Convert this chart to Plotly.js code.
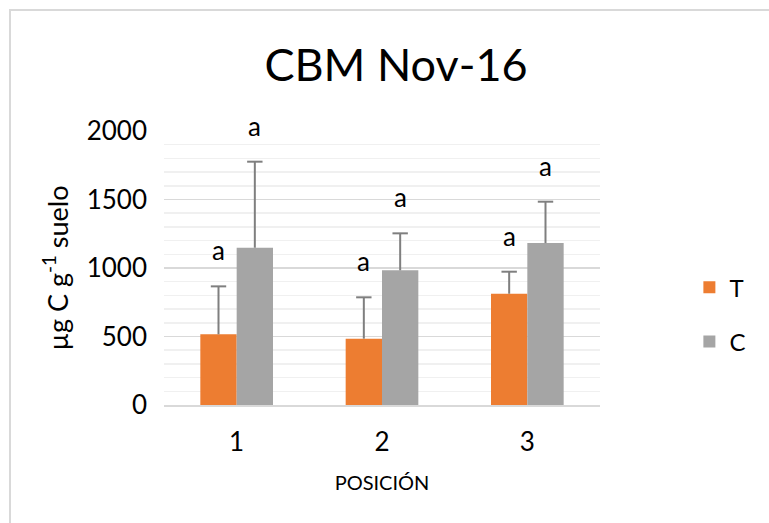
<!DOCTYPE html>
<html>
<head>
<meta charset="utf-8">
<script src="https://cdn.plot.ly/plotly-3.0.1.min.js"></script>
<style>
  body { margin: 0; background: #fff; }
  #chart { position: absolute; left: 0; top: 0; width: 769px; height: 523px; }
  #frame { position: absolute; left: 9px; top: 9px; width: 800px; height: 600px;
           border-left: 2px solid #d9d9d9; border-top: 2px solid #d9d9d9; pointer-events: none; }
</style>
</head>
<body>
<div id="chart"></div>
<div id="frame"></div>
<script>
const positions = ["1", "2", "3"]
const seriesNames = ["T", "C"]
const valuesT = [516, 484, 812]
const valuesC = [1148, 983, 1182]
const errorT = [350, 302, 161]
const errorC = [628, 270, 302]
const lettersT = ["a", "a", "a"]
const lettersC = ["a", "a", "a"]

const fontFamily = "Lato, 'Open Sans', sans-serif"
const barWidth = 0.25
const errColor = '#7f7f7f'

// x of a bar inside its group: T on the left, C on the right
function xs(side) {
    return positions.map((_, i) => i + side * barWidth / 2)
}

function barTrace(name, values, errors, color, side) {
    return {
        type: 'bar',
        name: name,
        legendgroup: name,
        x: xs(side),
        y: values,
        width: barWidth,
        marker: { color: color },
        // only the upper half of the error bar, cap drawn separately
        error_y: {
            type: 'data',
            array: errors,
            symmetric: false,
            arrayminus: errors.map(() => 0),
            color: errColor,
            thickness: 2,
            width: 0
        }
    }
}

function capTrace(values, errors, side) {
    return {
        type: 'scatter',
        mode: 'markers',
        x: xs(side),
        y: values.map((v, i) => v + errors[i]),
        marker: { symbol: 'line-ew', size: 11, line: { color: errColor, width: 2 } },
        showlegend: false,
        hoverinfo: 'skip'
    }
}

// significance letters sit above each error bar
function letterAnnotations(values, errors, letters, side) {
    return xs(side).map((x, i) => ({
        x: x,
        y: values[i] + errors[i],
        xref: 'x',
        yref: 'y',
        text: letters[i],
        showarrow: false,
        yshift: 36,
        yanchor: 'middle',
        font: { family: fontFamily, size: 26, color: '#000' }
    }))
}

const data = [
    barTrace(seriesNames[0], valuesT, errorT, '#ed7d31', -1),
    barTrace(seriesNames[1], valuesC, errorC, '#a5a5a5', 1),
    capTrace(valuesT, errorT, -1),
    capTrace(valuesC, errorC, 1)
]

const layout = {
    width: 769,
    height: 523,
    margin: { l: 164, r: 169, t: 131, b: 118, autoexpand: false },
    paper_bgcolor: '#fff',
    plot_bgcolor: '#fff',
    font: { family: fontFamily, color: '#000' },
    title: {
        text: 'CBM Nov-16',
        font: { family: fontFamily, size: 45, color: '#000' },
        x: 0.515,
        xanchor: 'center',
        y: 0.876,
        yanchor: 'middle'
    },
    xaxis: {
        range: [-0.5, 2.5],
        tickvals: positions.map((_, i) => i),
        ticktext: positions,
        showgrid: false,
        zeroline: false,
        showline: true,
        linecolor: '#d9d9d9',
        linewidth: 2,
        ticks: '',
        ticklabelstandoff: 13,
        tickfont: { family: fontFamily, size: 26 },
        title: { text: 'POSICIÓN', font: { family: fontFamily, size: 20 }, standoff: 20 }
    },
    yaxis: {
        range: [0, 2000],
        dtick: 500,
        showgrid: true,
        gridcolor: '#d9d9d9',
        gridwidth: 1.5,
        zeroline: false,
        ticks: '',
        ticklabelstandoff: 16,
        tickfont: { family: fontFamily, size: 26 },
        minor: { dtick: 100, showgrid: true, gridcolor: '#f0f0f0', gridwidth: 1.5 },
        title: { text: 'µg C g<sup>-1</sup> suelo', font: { family: fontFamily, size: 27 }, standoff: 10 }
    },
    legend: {
        x: 1.205,
        y: 0.33,
        yanchor: 'middle',
        xanchor: 'left',
        font: { family: fontFamily, size: 24 },
        traceorder: 'grouped',
        tracegroupgap: 20
    },
    annotations: [
        ...letterAnnotations(valuesT, errorT, lettersT, -1),
        ...letterAnnotations(valuesC, errorC, lettersC, 1)
    ]
}

Plotly.newPlot('chart', data, layout, { staticPlot: true })
</script>
</body>
</html>
